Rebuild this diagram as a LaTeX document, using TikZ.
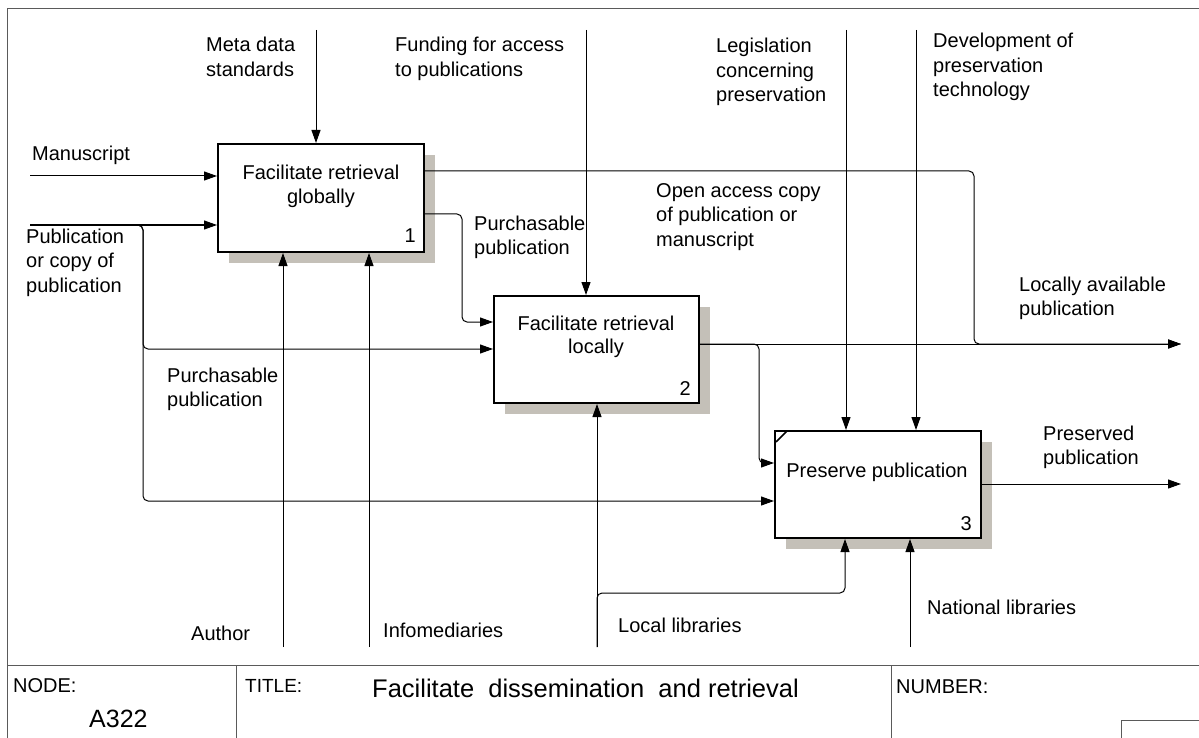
\documentclass[tikz,border=0pt]{standalone}
\usepackage{fontspec}
\setmainfont{Liberation Sans}
\usetikzlibrary{arrows.meta}
\definecolor{shadowc}{RGB}{196,192,184}
\definecolor{framec}{RGB}{90,90,90}
\begin{document}
\begin{tikzpicture}[x=1pt,y=-1pt,
  lbl/.style={anchor=base west, align=left, inner sep=0pt, font=\fontsize{20}{24.5}\selectfont},
  boxtxt/.style={anchor=base, align=center, inner sep=0pt, font=\fontsize{20}{23.5}\selectfont},
  num/.style={anchor=base east, inner sep=0pt, font=\fontsize{20}{24}\selectfont},
  act/.style={draw=black, line width=2pt, fill=white, minimum width=206pt, minimum height=107pt, inner sep=0pt},
  conn/.style={line width=1pt, rounded corners=5pt},
  arr/.style={conn, -{Triangle[length=13pt,width=9pt]}},
  frame/.style={line width=1pt, draw=framec}
]
\useasboundingbox (0,0) rectangle (1199,738);
\fill[white] (0,0) rectangle (1199,738);

% frame
\draw[frame] (7,738) -- (7,9) -- (1199,9);
\draw[frame] (7,665) -- (1199,665);
\draw[frame] (236,665) -- (236,738);
\draw[frame] (891,665) -- (891,738);
\draw[frame] (1121,738) -- (1121,720) -- (1199,720);

% shadows
\fill[shadowc] (229,155) rectangle (435,263);
\fill[shadowc] (505,307) rectangle (710,414);
\fill[shadowc] (786,442) rectangle (992,549);

% boxes
\node[act, minimum width=206pt, minimum height=108pt] (b1) at (321,198) {};
\node[act, minimum width=205pt, minimum height=107pt] (b2) at (596.5,349.5) {};
\node[act, minimum width=206pt, minimum height=107pt] (b3) at (878,484.5) {};
\draw[line width=1.5pt] (776,442) -- (787,431);

\node[boxtxt] (t1) at (321,203.5) {Facilitate retrieval\\globally};
\node[boxtxt] (t2) at (596,353.5) {Facilitate retrieval\\locally};
\node[boxtxt] (t3) at (877,477) {Preserve publication};
\node[num] (n1) at (416,243) {1};
\node[num] (n2) at (691,395) {2};
\node[num] (n3) at (972,530) {3};

% coordinates
\coordinate (meta) at (316,30);
\coordinate (fund) at (586,30);
\coordinate (legis) at (846,30);
\coordinate (dev) at (916,30);
\coordinate (manu) at (30,176);
\coordinate (pub) at (30,225);
\coordinate (pubA) at (143,225);
\coordinate (pubB) at (143,349);
\coordinate (pubC) at (143,501);
\coordinate (o1) at (974,171);
\coordinate (lap) at (1181,344);
\coordinate (o2) at (759,344);
\coordinate (o2b) at (759,463);
\coordinate (p2) at (462,214);
\coordinate (p2b) at (462,322);
\coordinate (pres) at (1181,484);
\coordinate (auth) at (283,647);
\coordinate (info) at (369,647);
\coordinate (loc) at (597,647);
\coordinate (locA) at (597,593);
\coordinate (locB) at (845,593);
\coordinate (nat) at (910,647);

% controls
\draw[arr] (meta) -- (meta |- b1.north);
\draw[arr] (fund) -- (fund |- b2.north);
\draw[arr] (legis) -- (legis |- b3.north);
\draw[arr] (dev) -- (dev |- b3.north);

% inputs
\draw[arr] (manu) -- (manu -| b1.west);
\draw[arr] (pub) -- (pub -| b1.west);
\draw[arr] (pub) -- (pubA) -- (pubB) -- (pubB -| b2.west);
\draw[arr] (pub) -- (pubA) -- (pubC) -- (pubC -| b3.west);

% outputs
\draw[arr] (o1 -| b1.east) -- (o1) -- (o1 |- lap) -- (lap);
\draw[arr] (lap -| b2.east) -- (lap);
\draw[arr] (o2 -| b2.east) -- (o2) -- (o2b) -- (o2b -| b3.west);
\draw[arr] (p2 -| b1.east) -- (p2) -- (p2b) -- (p2b -| b2.west);
\draw[arr] (pres -| b3.east) -- (pres);

% mechanisms
\draw[arr] (auth) -- (auth |- b1.south);
\draw[arr] (info) -- (info |- b1.south);
\draw[arr] (loc) -- (loc |- b2.south);
\draw[arr] (loc) -- (locA) -- (locB) -- (locB |- b3.south);
\draw[arr] (nat) -- (nat |- b3.south);

% labels (anchor = baseline of last line)
\node[lbl] (lmeta) at (206,76.5) {Meta data\\standards};
\node[lbl] (lfund) at (395,76.5) {Funding for access\\to publications};
\node[lbl] (llegis) at (716,102) {Legislation\\concerning\\preservation};
\node[lbl] (ldev) at (933,97) {Development of\\preservation\\technology};
\node[lbl] (lmanu) at (32,161) {Manuscript};
\node[lbl] (lpub) at (26,292) {Publication\\or copy of\\publication};
\node[lbl] (lpurch1) at (474,254.5) {Purchasable\\publication};
\node[lbl] (lopen) at (656,246) {Open access copy\\of publication or\\manuscript};
\node[lbl] (llap) at (1019,315.5) {Locally available\\publication};
\node[lbl] (lpurch2) at (167,406.5) {Purchasable\\publication};
\node[lbl] (lpres) at (1043,464.5) {Preserved\\publication};
\node[lbl] (lauth) at (191,640) {Author};
\node[lbl] (linfo) at (383,637) {Infomediaries};
\node[lbl] (lloc) at (618,632) {Local libraries};
\node[lbl] (lnat) at (927,614) {National libraries};

% footer
\node[lbl] (fnode) at (13,692) {NODE:};
\node[lbl, font=\fontsize{25}{30}\selectfont] (fa) at (89,727) {A322};
\node[lbl, font=\fontsize{19}{24}\selectfont] (ftitle) at (245,692) {TITLE:};
\node[lbl, font=\fontsize{25.5}{30}\selectfont] (ftt) at (372,697) {Facilitate\ \ dissemination\ \ and retrieval};
\node[lbl] (fnum) at (896,693) {NUMBER:};
\end{tikzpicture}
\end{document}
